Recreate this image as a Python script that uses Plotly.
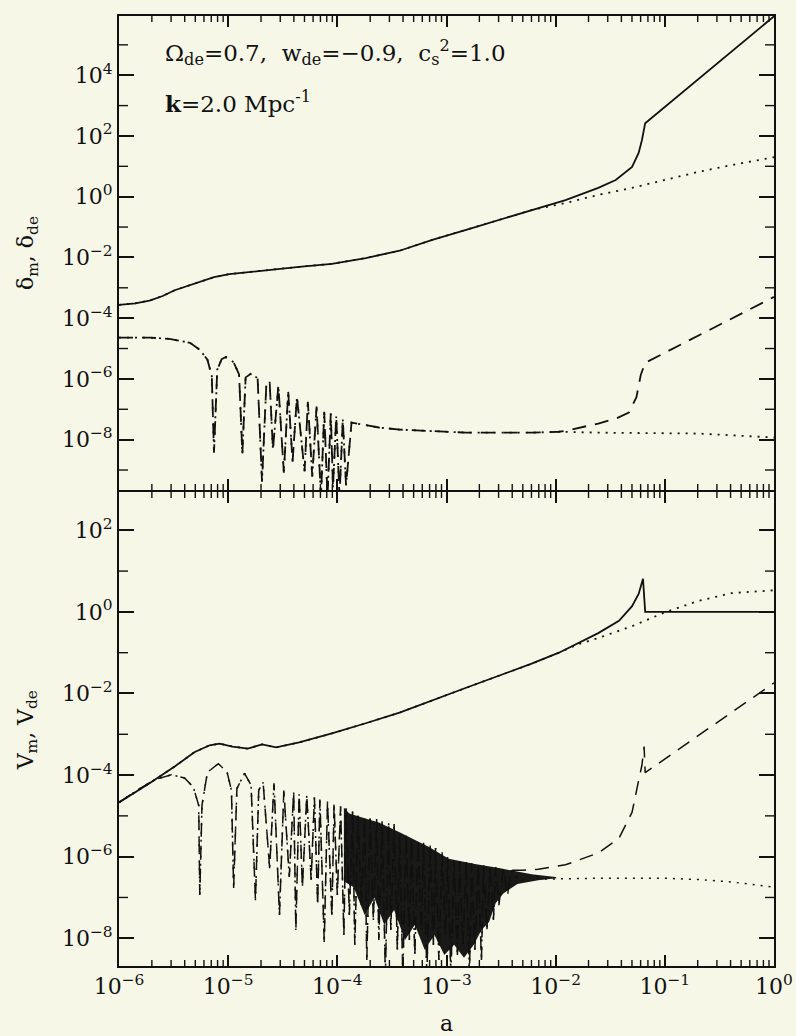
import numpy as np
import plotly.graph_objects as go

# ---------------- top panel: density contrasts, log10 a vs log10 delta ----------------
# matter contrast, branch shared by both models
la_dm_common = [-6.00, -5.85, -5.72, -5.60, -5.49, -5.37, -5.26, -5.13, -4.99, -4.71,
                -4.35, -4.05, -3.74, -3.43, -3.13, -2.82, -2.52, -2.22]
ldm_common = [-3.56, -3.51, -3.42, -3.27, -3.08, -2.93, -2.80, -2.65, -2.55, -2.44,
              -2.31, -2.21, -2.02, -1.78, -1.42, -1.09, -0.77, -0.44]
# matter contrast, model with the transition (solid)
la_dm_jump = [-1.91, -1.61, -1.45, -1.30, -1.24, -1.21, -1.18, 0.00]
ldm_jump = [-0.11, 0.29, 0.55, 0.98, 1.44, 1.86, 2.42, 5.94]
# matter contrast, smooth model (dotted)
la_dm_smooth = [-1.91, -1.61, -1.30, -1.00, -0.70, -0.39, 0.00]
ldm_smooth = [-0.21, 0.06, 0.29, 0.55, 0.81, 1.04, 1.30]

# dark-energy contrast, shared oscillating branch
la_dde_common = [-6.00, -5.72, -5.54, -5.35, -5.26, -5.19, -5.15, -5.13, -5.10, -5.06,
                 -5.02, -4.95, -4.90, -4.87, -4.84, -4.78, -4.73, -4.69, -4.65, -4.62,
                 -4.59, -4.54, -4.49, -4.45, -4.41, -4.37, -4.30, -4.27, -4.23, -4.19,
                 -4.15, -4.12, -4.09, -4.06, -4.04, -4.01, -3.98, -3.95, -3.92, -3.87,
                 -3.62, -3.43, -2.82, -2.22, -1.97]
ldde_common = [-4.64, -4.64, -4.68, -4.81, -5.04, -5.37, -5.90, -8.43, -5.70, -5.35,
               -5.28, -5.45, -5.85, -8.46, -5.95, -5.80, -6.00, -9.38, -6.15, -6.09,
               -8.33, -6.22, -9.09, -6.42, -8.73, -6.59, -9.05, -6.75, -9.21, -6.91,
               -9.90, -7.08, -9.90, -7.14, -9.58, -7.24, -9.90, -7.34, -9.51, -7.44,
               -7.60, -7.67, -7.77, -7.77, -7.74]
la_dde_jump = [-1.91, -1.61, -1.45, -1.33, -1.26, -1.22, -1.18, 0.00]
ldde_jump = [-7.71, -7.47, -7.31, -7.11, -6.60, -5.86, -5.47, -3.30]
la_dde_smooth = [-1.61, -0.69, -0.33, 0.00]
ldde_smooth = [-7.77, -7.80, -7.87, -7.93]

# ---------------- bottom panel: velocities, log10 a vs log10 V ----------------
la_vm_common = [-6.00, -5.72, -5.49, -5.31, -5.17, -5.08, -4.96, -4.82, -4.69, -4.56,
                -4.35, -4.05, -3.74, -3.43, -2.82, -2.22, -1.97]
lvm_common = [-4.67, -4.20, -3.79, -3.44, -3.27, -3.23, -3.30, -3.35, -3.25, -3.32,
              -3.20, -2.98, -2.73, -2.47, -1.86, -1.27, -1.00]
la_vm_jump = [-1.61, -1.42, -1.30, -1.24, -1.20, -1.18, 0.00]
lvm_jump = [-0.52, -0.22, 0.14, 0.44, 0.81, 0.00, 0.00]
la_vm_smooth = [-1.79, -1.61, -1.30, -0.99, -0.69, -0.39, 0.00]
lvm_smooth = [-0.79, -0.64, -0.35, 0.00, 0.27, 0.46, 0.53]

la_vde_common = [-6.00, -5.81, -5.67, -5.52, -5.40, -5.32, -5.27, -5.26, -5.24, -5.19,
                 -5.09, -5.01, -4.97, -4.95, -4.92, -4.85, -4.79, -4.75, -4.72, -4.68,
                 -4.62, -4.58, -4.53, -4.49, -4.44, -4.40, -4.38, -4.35, -4.32, -4.28,
                 -4.24, -4.21, -4.18, -4.16, -4.12, -4.09, -4.05, -4.03, -4.00, -3.97,
                 -3.94, -3.92, -3.89, -3.86, -3.84, -3.81, -3.78, -3.75, -3.73, -3.70,
                 -3.67, -3.64, -3.62, -3.59, -3.56, -3.53, -3.51, -3.48, -3.45, -3.43,
                 -3.40, -3.37, -3.34, -3.32, -3.29, -3.26, -3.23, -3.21, -3.18, -3.15,
                 -3.12, -3.10, -3.07, -3.04, -3.01, -2.99, -2.96, -2.93, -2.90, -2.88,
                 -2.85, -2.82, -2.79, -2.77, -2.74, -2.71, -2.68, -2.66, -2.63, -2.60,
                 -2.57, -2.55, -2.52, -2.48, -2.44, -2.41]
lvde_common = [-4.67, -4.33, -4.11, -3.99, -4.07, -4.29, -4.74, -6.94, -4.74, -3.93,
               -3.72, -3.93, -4.37, -6.77, -4.33, -3.96, -4.25, -7.07, -4.37, -4.18,
               -6.28, -4.20, -7.43, -4.38, -6.50, -4.42, -7.80, -4.47, -6.75, -4.50,
               -6.57, -4.55, -7.19, -4.60, -8.09, -4.65, -7.48, -4.72, -6.94, -4.77,
               -7.92, -4.82, -7.43, -4.87, -8.16, -4.99, -7.19, -5.01, -8.53, -5.06,
               -7.55, -5.08, -8.04, -5.13, -8.90, -5.16, -7.80, -5.20, -8.28, -5.43,
               -8.90, -5.48, -8.04, -5.55, -8.41, -5.60, -7.80, -5.66, -8.90, -5.72,
               -8.16, -5.79, -8.53, -5.89, -7.92, -6.01, -8.90, -6.09, -8.41, -6.11,
               -8.16, -6.14, -8.90, -6.16, -8.28, -6.18, -8.53, -6.21, -7.80, -6.23,
               -7.55, -6.26, -7.19, -6.28, -6.94, -6.33]
la_vde_jump = [-2.30, -2.16, -1.91, -1.61, -1.42, -1.30, -1.24, -1.21, -1.19, -1.18, 0.00]
lvde_jump = [-6.33, -6.31, -6.20, -5.91, -5.55, -4.91, -4.13, -3.76, -3.30, -3.94, -1.74]
la_vde_smooth = [-2.33, -2.22, -2.10, -1.61, -1.00, -0.69, -0.39, 0.00]
lvde_smooth = [-6.60, -6.50, -6.55, -6.53, -6.53, -6.56, -6.62, -6.75]

# envelope of the densely oscillating stretch
la_band_top = [-3.94, -3.89, -3.75, -3.62, -3.43, -3.30, -3.16, -2.98, -2.85, -2.74,
               -2.52, -2.35, -2.22, -2.00]
lv_band_top = [-4.80, -4.94, -5.06, -5.16, -5.40, -5.58, -5.76, -6.05, -6.13, -6.18,
               -6.28, -6.36, -6.43, -6.50]
la_band_bot = [-3.94, -3.85, -3.75, -3.66, -3.57, -3.48, -3.38, -3.29, -3.20, -3.11,
               -3.02, -2.93, -2.84, -2.75, -2.68, -2.61, -2.55, -2.48, -2.35, -2.16,
               -1.99]
lv_band_bot = [-6.60, -6.75, -7.43, -7.01, -7.67, -7.31, -8.04, -7.67, -8.28, -7.92,
               -8.41, -8.16, -8.48, -8.16, -7.80, -7.60, -7.14, -6.90, -6.67, -6.58,
               -6.53]

# axis ticks (decade exponents)
x_decades = [-6, -5, -4, -3, -2, -1, 0]
top_major = [-8, -6, -4, -2, 0, 2, 4]
top_minor = [-9, -7, -5, -3, -1, 1, 3, 5]
bot_major = [-8, -6, -4, -2, 0, 2]
bot_minor = [-7, -5, -3, -1, 1]

X_RANGE = [-6.0, 0.0]
TOP_RANGE = [-9.66, 5.95]
BOT_RANGE = [-8.68, 2.94]
TOP_DOM = [0.501, 1.0]
BOT_DOM = [0.0, 0.499]

W, H = 796, 1036
M_L, M_R, M_T, M_B = 119, 22, 16, 70
PLOT_W = W - M_L - M_R
PLOT_H = H - M_T - M_B

INK = "#111111"
BG = "#F7F7E8"
FONT = "DejaVu Serif"
FS = 22


def pw(v):
    return 10.0 ** np.asarray(v, dtype=float)


def sup_label(e):
    s = str(e).replace("-", "\u2212")
    return "10<sup>" + s + "</sup>"


SOLID = dict(color=INK, width=1.8)
DOTTED = dict(color=INK, width=1.8, dash="2px,6px")
DASHED = dict(color=INK, width=1.8, dash="14px,9px")

fig = go.Figure()


def add_line(lx, ly, line, xa, ya):
    fig.add_trace(go.Scatter(x=pw(lx), y=pw(ly), mode="lines", line=line,
                             xaxis=xa, yaxis=ya, showlegend=False, hoverinfo="skip"))


# top panel
add_line(la_dm_common + la_dm_jump, ldm_common + ldm_jump, SOLID, "x", "y")
add_line(la_dm_common + la_dm_smooth, ldm_common + ldm_smooth, DOTTED, "x", "y")
add_line(la_dde_common + la_dde_jump, ldde_common + ldde_jump, DASHED, "x", "y")
add_line(la_dde_common + la_dde_smooth, ldde_common + ldde_smooth, DOTTED, "x", "y")

# bottom panel
fig.add_trace(go.Scatter(
    x=pw(la_band_top + la_band_bot[::-1]), y=pw(lv_band_top + lv_band_bot[::-1]),
    mode="lines", fill="toself", fillcolor="rgba(5,5,5,0.92)", line=dict(width=0),
    xaxis="x2", yaxis="y2", showlegend=False, hoverinfo="skip"))
add_line(la_vm_common + la_vm_jump, lvm_common + lvm_jump, SOLID, "x2", "y2")
add_line(la_vm_common + la_vm_smooth, lvm_common + lvm_smooth, DOTTED, "x2", "y2")
add_line(la_vde_common + la_vde_jump, lvde_common + lvde_jump,
         dict(color=INK, width=1.5, dash="14px,9px"), "x2", "y2")
add_line(la_vde_common + la_vde_smooth, lvde_common + lvde_smooth,
         dict(color=INK, width=1.5, dash="2px,6px"), "x2", "y2")


# short (minor) ticks along each frame edge, as line segments whose
# length is converted from pixels to decades of the panel's axis
def minor_ticks(yrange, ydom, minor_exps, xa, ya, x_len_px=6, y_len_px=9):
    panel_h = PLOT_H * (ydom[1] - ydom[0])
    dy = x_len_px * (yrange[1] - yrange[0]) / panel_h
    dx = y_len_px * (X_RANGE[1] - X_RANGE[0]) / PLOT_W
    xs, ys = [], []
    for d in x_decades[:-1]:
        for m in range(2, 10):
            lx = d + np.log10(m)
            xs += [lx, lx, None, lx, lx, None]
            ys += [yrange[0], yrange[0] + dy, None, yrange[1], yrange[1] - dy, None]
    for e in minor_exps:
        xs += [X_RANGE[0], X_RANGE[0] + dx, None, X_RANGE[1], X_RANGE[1] - dx, None]
        ys += [e, e, None, e, e, None]
    fig.add_trace(go.Scatter(
        x=[None if v is None else 10.0 ** v for v in xs],
        y=[None if v is None else 10.0 ** v for v in ys],
        mode="lines", line=dict(color=INK, width=1.4), xaxis=xa, yaxis=ya,
        showlegend=False, hoverinfo="skip", connectgaps=False))


minor_ticks(TOP_RANGE, TOP_DOM, top_minor, "x", "y")
minor_ticks(BOT_RANGE, BOT_DOM, bot_minor, "x2", "y2")

tick_font = dict(family=FONT, size=FS, color=INK)
frame = dict(mirror="allticks", showline=True, linewidth=2, linecolor=INK,
             showgrid=False, zeroline=False, ticks="inside", tickcolor=INK)


def x_axis(anchor, show_labels):
    d = dict(type="log", range=X_RANGE, domain=[0, 1], anchor=anchor,
             tickmode="array", tickvals=[10.0 ** d for d in x_decades],
             ticktext=[sup_label(d) for d in x_decades], showticklabels=show_labels,
             ticklen=11, tickwidth=1.6, tickfont=tick_font)
    d.update(frame)
    return d


def y_axis(rng, dom, major, anchor):
    d = dict(type="log", range=rng, domain=dom, anchor=anchor,
             tickmode="array", tickvals=[10.0 ** d for d in major],
             ticktext=[sup_label(d) for d in major],
             ticklen=15, tickwidth=1.6, tickfont=tick_font)
    d.update(frame)
    return d


fig.update_layout(
    width=W, height=H,
    margin=dict(l=M_L, r=M_R, t=M_T, b=M_B, autoexpand=False),
    paper_bgcolor=BG, plot_bgcolor=BG,
    xaxis=x_axis("y", False),
    xaxis2=x_axis("y2", True),
    yaxis=y_axis(TOP_RANGE, TOP_DOM, top_major, "x"),
    yaxis2=y_axis(BOT_RANGE, BOT_DOM, bot_major, "x2"),
    font=dict(family=FONT, color=INK),
)

txt_font = dict(family=FONT, size=FS, color=INK)
fig.add_annotation(xref="paper", yref="paper", x=0.067, y=0.962, xanchor="left", yanchor="middle",
                   text="\u03a9<sub>de</sub>=0.7,  w<sub>de</sub>=\u22120.9,  c<sub>s</sub><sup>2</sup>=1.0",
                   showarrow=False, font=dict(family=FONT, size=23, color=INK))
fig.add_annotation(xref="paper", yref="paper", x=0.067, y=0.909, xanchor="left", yanchor="middle",
                   text="<b>k</b>=2.0 Mpc<sup>-1</sup>", showarrow=False,
                   font=dict(family=FONT, size=23, color=INK))
fig.add_annotation(xref="paper", yref="paper", x=-0.1405, y=0.7505, xanchor="center", yanchor="middle",
                   text="\u03b4<sub>m</sub>, \u03b4<sub>de</sub>", textangle=-90,
                   showarrow=False, font=txt_font)
fig.add_annotation(xref="paper", yref="paper", x=-0.1405, y=0.248, xanchor="center", yanchor="middle",
                   text="V<sub>m</sub>, V<sub>de</sub>", textangle=-90,
                   showarrow=False, font=txt_font)
fig.add_annotation(xref="paper", yref="paper", x=0.5, y=-0.060, xanchor="center", yanchor="middle",
                   text="a", showarrow=False, font=txt_font)

fig.write_html("out.html")
